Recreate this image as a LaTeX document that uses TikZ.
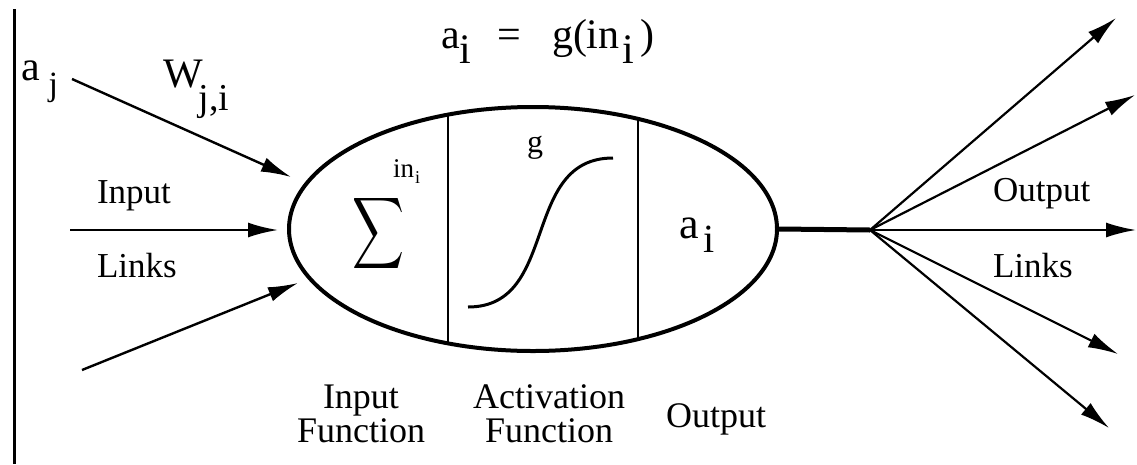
\documentclass[tikz,border=0pt]{standalone}
\usepackage{fontspec}
\setmainfont{Liberation Serif}
\usepackage{graphicx}
\usetikzlibrary{arrows.meta,shapes.geometric}
\newcommand{\fs}[1]{\fontsize{#1}{#1}\selectfont}
\begin{document}
\begin{tikzpicture}[x=1pt,y=-1pt,
  inarrow/.style={line width=2.4pt,-{Latex[length=30pt,width=15pt]}},
  outarrow/.style={line width=2.2pt,-{Latex[length=30pt,width=15pt]}},
  txt/.style={inner sep=0pt,outer sep=0pt},
  lbl/.style={txt,font=\fs{35}},
  blbl/.style={txt,align=center,font=\fontsize{36}{34}\selectfont},
]
\useasboundingbox (0,0) rectangle (1137,464);
% left rule
\coordinate (rulet) at (14,9);
\coordinate (ruleb) at (14,464);
\draw[line width=3pt] (rulet) -- (ruleb);
% neuron body
\node[draw,ellipse,line width=4pt,minimum width=488pt,minimum height=244pt,inner sep=0pt] (neuron) at (533,229) {};
\begin{scope}
  \clip (533,229) ellipse [x radius=244pt, y radius=122pt];
  \coordinate (d1t) at (448,90);  \coordinate (d1b) at (448,370);
  \coordinate (d2t) at (638,90);  \coordinate (d2b) at (638,370);
  \draw[line width=2pt] (d1t) -- (d1b);
  \draw[line width=2pt] (d2t) -- (d2b);
\end{scope}
% sigma and in_i
\node[txt,anchor=center] (sigma) at (378,233) {\scalebox{3.6}[5]{$\displaystyle\sum$}};
\node[txt,anchor=base west,font=\fs{27}] (ini) at (393,177) {in\hspace{1pt}\raisebox{-6pt}{\fs{18}i}};
% activation
\coordinate (sgs) at (468,307);
\coordinate (sge) at (613,158);
\draw[line width=3pt] (sgs) .. controls (560,307) and (520,158) .. (sge);
\node[txt,anchor=base,font=\fs{32}] (glabel) at (535,152) {g};
% output a_i
\node[txt,anchor=base west,font=\fs{44}] (aout) at (679,238) {a\hspace{5pt}\raisebox{-14pt}{\fs{40}i}};
% formula a_i = g(in_i)
\node[txt,anchor=base west,font=\fs{42}] (formula) at (441,48) {a\raisebox{-15pt}{i}\hspace{26pt}=\hspace{31pt}g(in\hspace{3pt}\raisebox{-15pt}{i}\hspace{6pt})};
% input side
\node[txt,anchor=base west,font=\fs{42}] (aj) at (21,80) {a\hspace{9pt}\raisebox{-15pt}{\fs{34}j}};
\node[txt,anchor=base west,font=\fs{42}] (wji) at (163,87) {W\hspace{-4pt}\raisebox{-23pt}{\fs{38}j,i}};
\node[lbl,anchor=base west] (inlab) at (97,203) {Input};
\node[lbl,anchor=base west] (linlab) at (97,277) {Links};
\coordinate (in1s) at (72,79);  \coordinate (in1e) at (291,177);
\coordinate (in2s) at (70,230); \coordinate (in2e) at (278,230);
\coordinate (in3s) at (82,370); \coordinate (in3e) at (298,283);
\draw[inarrow] (in1s) -- (in1e);
\draw[inarrow] (in2s) -- (in2e);
\draw[inarrow] (in3s) -- (in3e);
% output side
\coordinate (hub) at (870,230);
\draw[line width=5pt] (neuron.east) -- (hub);
\coordinate (o1) at (1116,18);
\coordinate (o2) at (1135,95);
\coordinate (o3) at (1136,230);
\coordinate (o4) at (1118,354);
\coordinate (o5) at (1109,428);
\foreach \tgt in {o1,o2,o3,o4,o5} \draw[outarrow] (hub) -- (\tgt);
\node[lbl,anchor=base west] (outlab) at (993,201) {Output};
\node[lbl,anchor=base west] (loutlab) at (993,277) {Links};
% bottom labels
\node[blbl,anchor=north] (inf) at (361,385) {Input\\Function};
\node[blbl,anchor=north] (actf) at (549,385) {Activation\\Function};
\node[txt,font=\fs{36},anchor=base] (outf) at (716,427) {Output};
\end{tikzpicture}
\end{document}
